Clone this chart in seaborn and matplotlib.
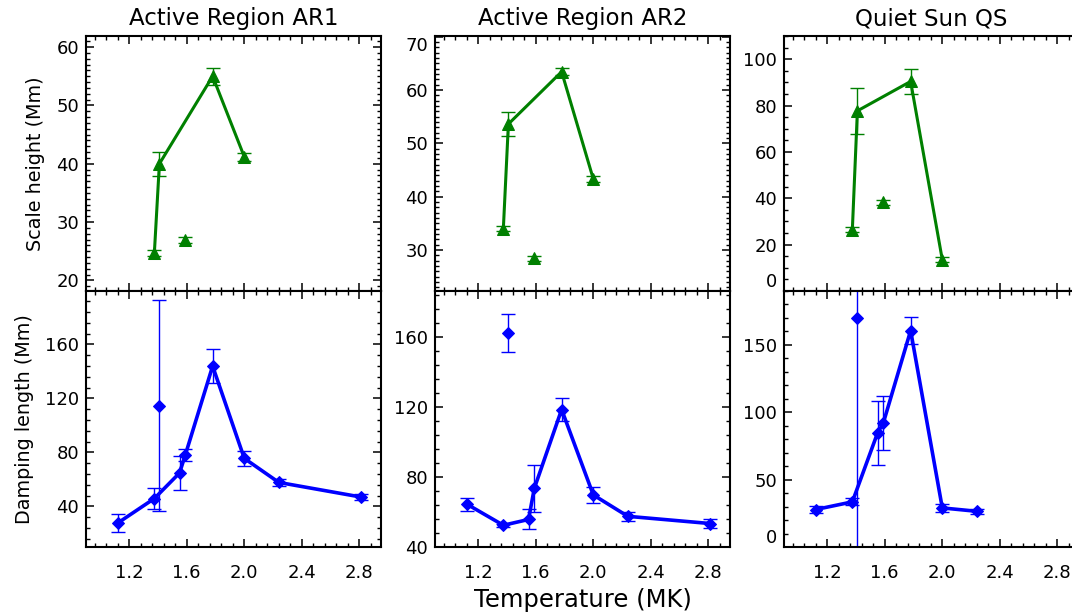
import numpy as np
import pandas as pd
import matplotlib
matplotlib.use("Agg")
import matplotlib.pyplot as plt
import seaborn as sns
from matplotlib.ticker import FixedLocator, MultipleLocator

sns.set_style("ticks")
plt.rcParams["font.family"] = ["DejaVu Sans"]
plt.rcParams["text.color"] = "black"
plt.rcParams["axes.labelcolor"] = "black"
plt.rcParams["xtick.color"] = "black"
plt.rcParams["ytick.color"] = "black"
plt.rcParams["axes.edgecolor"] = "black"

# ---------------- data ----------------
titles = ["Active Region AR1", "Active Region AR2", "Quiet Sun QS"]
x_ticks = [1.2, 1.6, 2.0, 2.4, 2.8]
x_tick_labels = ["1.2", "1.6", "2.0", "2.4", "2.8"]

# scale height (top row): connected temperatures and a separate point
sh_T_line = [1.375, 1.41, 1.78, 2.00]
sh_T_sep = [1.59]

ar1_sh = [24.7, 40.0, 55.0, 41.2]
ar1_sh_err = [0.5, 2.1, 1.5, 0.7]
ar1_sh_sep = [27.0]
ar1_sh_sep_err = [0.5]

ar2_sh = [34.0, 53.6, 63.4, 43.3]
ar2_sh_err = [0.4, 2.2, 0.7, 0.5]
ar2_sh_sep = [28.4]
ar2_sh_sep_err = [0.4]

qs_sh = [26.5, 77.7, 90.4, 13.5]
qs_sh_err = [1.0, 10.0, 5.3, 1.0]
qs_sh_sep = [38.2]
qs_sh_sep_err = [1.0]

# damping length (bottom row)
dl_T_line = [1.12, 1.375, 1.55, 1.59, 1.78, 2.00, 2.24, 2.81]
dl_T_sep = [1.41]

ar1_dl = [27.7, 45.9, 64.8, 78.1, 143.9, 75.6, 57.8, 47.0]
ar1_dl_err = [6.7, 7.5, 12.5, 4.4, 12.5, 5.7, 2.5, 2.0]
ar1_dl_sep = [114.7]
ar1_dl_sep_err = [78.0]

ar2_dl = [64.5, 52.4, 55.7, 73.4, 118.4, 69.7, 57.5, 53.4]
ar2_dl_err = [3.7, 1.0, 5.7, 13.5, 6.6, 4.5, 2.5, 2.5]
ar2_dl_sep = [162.0]
ar2_dl_sep_err = [11.0]

qs_dl_T_line = [1.12, 1.375, 1.55, 1.59, 1.78, 2.00, 2.24]
qs_dl = [27.8, 33.5, 84.6, 92.0, 160.6, 29.0, 26.5]
qs_dl_err = [2.5, 2.5, 24.0, 20.0, 10.0, 3.0, 2.0]
qs_dl_sep = [170.0]
qs_dl_sep_err = [400.0]

sh_yticks = [[20, 30, 40, 50, 60], [30, 40, 50, 60, 70], [0, 20, 40, 60, 80, 100]]
dl_yticks = [[40, 80, 120, 160], [40, 80, 120, 160], [0, 50, 100, 150]]

# ---------------- style ----------------
GREEN = "#008000"
BLUE = "#0000ff"
W, H = 1072, 614
fig = plt.figure(figsize=(W / 100, H / 100), dpi=100)

lefts = [86, 435, 784]
pw = 295
top_row = (36, 291)
bot_row = (291, 547)

sh_ylims = [(18.2, 61.9), (22.3, 70.1), (0, 110)]
dl_ylims = [(10, 199.5), (40, 186), (0, 190)]
sh_minor = [1, 1, 5]
dl_minor = [8, 8, 10]

sh_sets = [(sh_T_line, ar1_sh, ar1_sh_err, ar1_sh_sep, ar1_sh_sep_err),
           (sh_T_line, ar2_sh, ar2_sh_err, ar2_sh_sep, ar2_sh_sep_err),
           (sh_T_line, qs_sh, qs_sh_err, qs_sh_sep, qs_sh_sep_err)]
dl_sets = [(dl_T_line, ar1_dl, ar1_dl_err, ar1_dl_sep, ar1_dl_sep_err),
           (dl_T_line, ar2_dl, ar2_dl_err, ar2_dl_sep, ar2_dl_sep_err),
           (qs_dl_T_line, qs_dl, qs_dl_err, qs_dl_sep, qs_dl_sep_err)]


def make_ax(left, row):
    t, b = row
    return fig.add_axes([left / W, 1 - b / H, pw / W, (b - t) / H])


def style_ax(ax, bottom_labels, right_ticks):
    ax.set_xlim(0.9, 2.95)
    ax.xaxis.set_major_locator(FixedLocator(x_ticks))
    ax.xaxis.set_minor_locator(MultipleLocator(0.08))
    if bottom_labels:
        ax.set_xticklabels(x_tick_labels)
    ax.tick_params(which="both", direction="in", top=True, right=right_ticks,
                   labelbottom=bottom_labels, colors="black",
                   labelcolor="black")
    ax.tick_params(which="major", length=6, width=1.1, labelsize=13)
    ax.tick_params(which="minor", length=3, width=1.0)
    ax.tick_params(axis="x", which="major", pad=12)
    ax.tick_params(axis="y", which="major", pad=5)
    for s in ax.spines.values():
        s.set_linewidth(1.5)
        s.set_color("black")
    ax.grid(False)


def draw(ax, T_line, T_sep, vals, errs, sv, se, color, marker, ms, lw):
    df = pd.DataFrame({"T": T_line, "v": vals, "e": errs})
    ds = pd.DataFrame({"T": T_sep, "v": sv, "e": se})
    ax.errorbar(df["T"], df["v"], yerr=df["e"], fmt="none", ecolor=color,
                elinewidth=1.0, capsize=5, capthick=1.0, zorder=2)
    ax.errorbar(ds["T"], ds["v"], yerr=ds["e"], fmt="none", ecolor=color,
                elinewidth=1.0, capsize=5, capthick=1.0, zorder=2)
    sns.lineplot(data=df, x="T", y="v", ax=ax, color=color, lw=lw,
                 marker=marker, markersize=ms, markeredgecolor=color,
                 markerfacecolor=color, sort=False, errorbar=None, zorder=3)
    sns.lineplot(data=ds, x="T", y="v", ax=ax, color=color, lw=lw,
                 marker=marker, markersize=ms, markeredgecolor=color,
                 markerfacecolor=color, sort=False, errorbar=None, zorder=3)
    ax.set_xlabel("")
    ax.set_ylabel("")


for i in range(3):
    axt = make_ax(lefts[i], top_row)
    axb = make_ax(lefts[i], bot_row)

    T, v, e, sv, se = sh_sets[i]
    draw(axt, T, sh_T_sep, v, e, sv, se, GREEN, "^", 9, 2.2)
    T, v, e, sv, se = dl_sets[i]
    draw(axb, T, dl_T_sep, v, e, sv, se, BLUE, "D", 6, 2.6)

    style_ax(axt, False, i < 2)
    style_ax(axb, True, i < 2)

    axt.set_ylim(*sh_ylims[i])
    axt.yaxis.set_major_locator(FixedLocator(sh_yticks[i]))
    axt.yaxis.set_minor_locator(MultipleLocator(sh_minor[i]))
    axb.set_ylim(*dl_ylims[i])
    axb.yaxis.set_major_locator(FixedLocator(dl_yticks[i]))
    axb.yaxis.set_minor_locator(MultipleLocator(dl_minor[i]))

    # edge labels nudged inside the axis span
    tt = axt.yaxis.get_major_ticks(len(sh_yticks[i]))
    tb = axb.yaxis.get_major_ticks(len(dl_yticks[i]))
    if i == 1:
        tt[-1].label1.set_verticalalignment("top")
    if i == 2:
        tt[0].label1.set_verticalalignment("bottom")
        tb[0].label1.set_verticalalignment("bottom")

    fig.text((lefts[i] + pw / 2) / W, 1 - 19 / H, titles[i], ha="center",
             va="center", fontsize=16.5, color="black")

    if i == 0:
        axt.set_ylabel("Scale height (Mm)", fontsize=13.8, labelpad=8,
                       color="black")
        axb.set_ylabel("Damping length (Mm)", fontsize=13.8, labelpad=8,
                       color="black")

fig.text((lefts[1] + pw / 2) / W, 1 - 600 / H, "Temperature (MK)",
         ha="center", va="center", fontsize=17.5, color="black")

fig.savefig("out.png", dpi=100)
